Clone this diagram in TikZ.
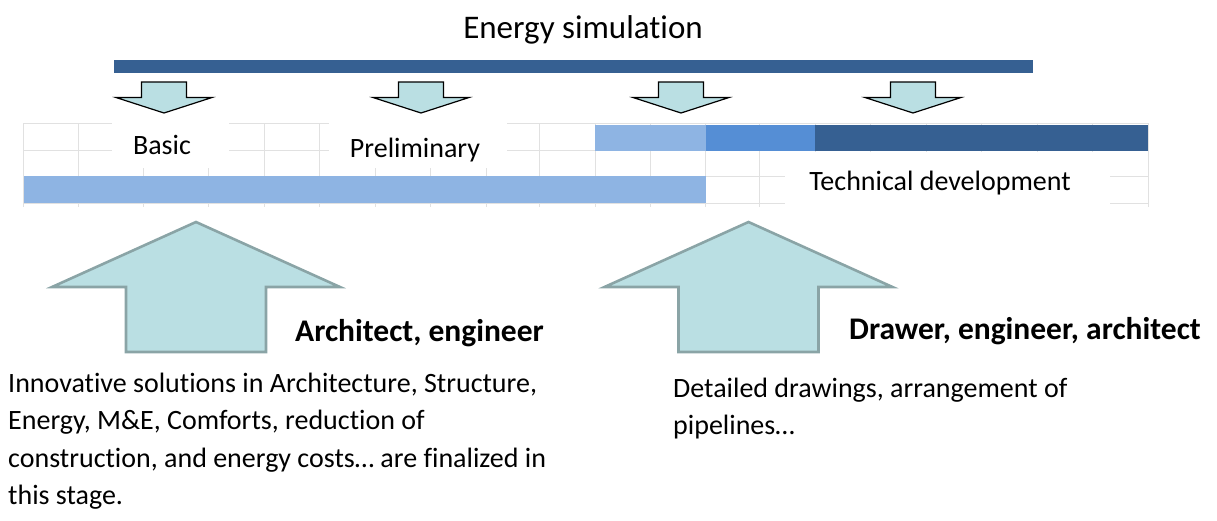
\documentclass[tikz,border=0pt]{standalone}
\usepackage{fontspec}
\setmainfont{Carlito}[Ligatures=NoCommon]
\definecolor{gridgrey}{HTML}{E1E1E1}
\definecolor{barlight}{HTML}{8EB4E3}
\definecolor{barmid}{HTML}{558ED5}
\definecolor{bardark}{HTML}{366092}
\definecolor{aquafill}{HTML}{BADFE3}
\definecolor{aquaedge}{HTML}{8AA4A6}
\tikzset{
    gridline/.style = {draw=gridgrey,
                    line width=1pt},
    cover/.style =  {fill=white,
                    draw=none},
    smallarrow/.style = {fill=aquafill,
                    draw=black,
                    line width=1.2pt,
                    line join=miter},
    bigarrow/.style = {fill=aquafill,
                    draw=aquaedge,
                    line width=2.6pt,
                    line join=miter},
    title/.style =  {font=\fontsize{33}{40}\selectfont,
                    inner sep=0pt},
    stage/.style =  {font=\fontsize{28}{34}\selectfont,
                    inner sep=0pt},
    role/.style =   {font=\fontsize{31.5}{38}\selectfont\bfseries,
                    inner sep=0pt,
                    anchor=west},
    remark/.style = {font=\fontsize{28}{37.3}\selectfont,
                    inner sep=0pt,
                    anchor=north west,
                    align=left}
}

\begin{document}
\begin{tikzpicture}[x=1pt,y=-1pt]
    \useasboundingbox (0,0) rectangle (1217,520);
    % grid
    \foreach \y in {123,150,176,203}
        \draw[gridline] (23.7,\y) -- (1148.3,\y);
    \foreach \x in {23.7,78.5,143.5,208.6,264,319.6,375,430.5,486,539.6,595.3,
                    650.8,705.5,759.9,815.4,870.8,926.4,981.8,1037.3,1092.8,1148.3}
        \draw[gridline] (\x,123) -- (\x,207);
    \fill[cover] (112,122) rectangle (229,168);
    \fill[cover] (329,122) rectangle (507,168);
    \fill[cover] (785,152) rectangle (1110,207);
    % bars
    \fill[bardark]  (114,59.5) rectangle (1032.5,72.5);
    \fill[barlight] (595,125) rectangle (705.5,150.7);
    \fill[barmid]   (705.5,125) rectangle (815,150.7);
    \fill[bardark]  (815,125) rectangle (1147.5,150.7);
    \fill[barlight] (23.7,176) rectangle (705.5,202.5);
    % small arrows
    \foreach \c in {164,421,681,913}
        \draw[smallarrow] (\c-22.5,82) -- (\c+22.5,82) -- (\c+22.5,97.5)
            -- (\c+48,97.5) -- (\c,113) -- (\c-48,97.5) -- (\c-22.5,97.5) -- cycle;
    % big arrows
    \foreach \c in {196,748.5}
        \draw[bigarrow] (\c-70,352) -- (\c-70,287) -- (\c-144,287) -- (\c,222)
            -- (\c+144,287) -- (\c+70,287) -- (\c+70,352) -- cycle;
    % texts
    \node[title]  (sim)   at (583,30)  {Energy simulation};
    \node[stage]  (basic) at (162,145) {Basic};
    \node[stage]  (prel)  at (415,150) {Preliminary};
    \node[stage]  (tech)  at (940,183) {Technical development};
    \node[role]   (archeng) at (295,333) {Architect, engineer};
    \node[role]   (drawer)  at (849,331) {Drawer, engineer, architect};
    \node[remark] (innov) at (8,373)   {Innovative solutions in Architecture, Structure,\\
        Energy, M\&E, Comforts, reduction of\\
        construction, and energy costs… are finalized in\\
        this stage.};
    \node[remark] (detail) at (673,378) {Detailed drawings, arrangement of\\
        pipelines…};
\end{tikzpicture}
\end{document}
